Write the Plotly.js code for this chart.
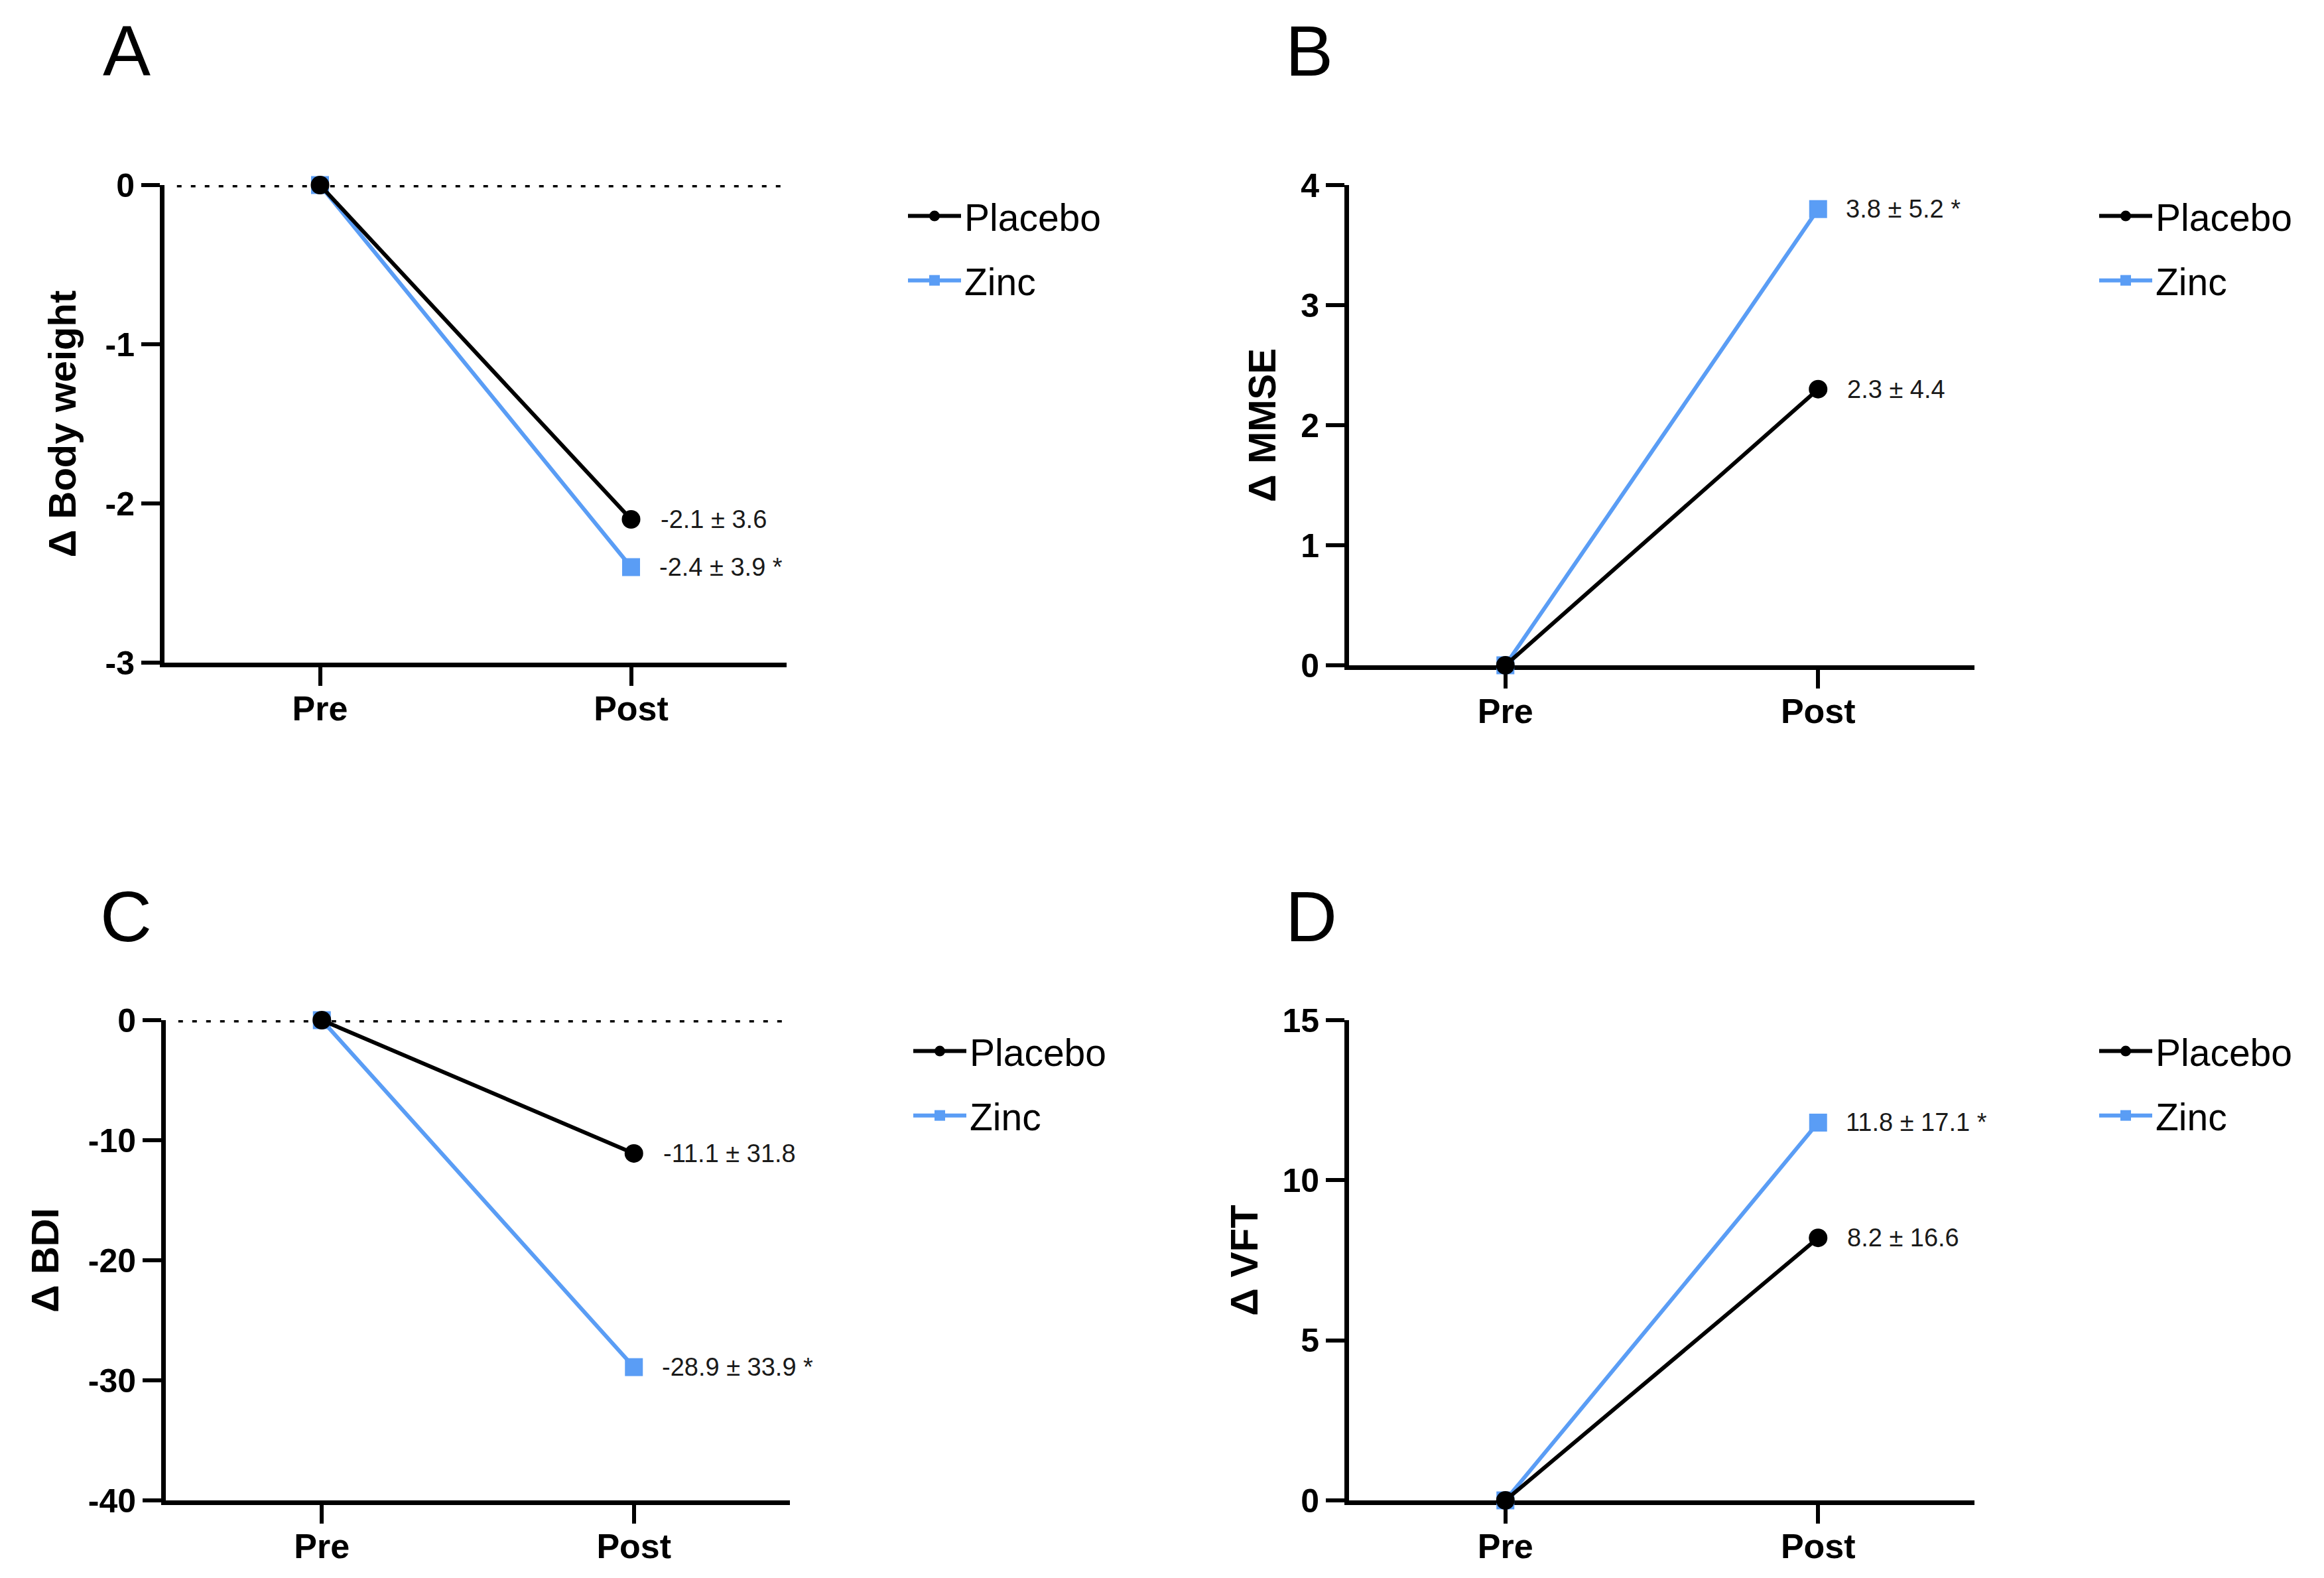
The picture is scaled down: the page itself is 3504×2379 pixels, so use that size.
<!DOCTYPE html>
<html>
<head>
<meta charset="utf-8">
<script src="https://cdn.plot.ly/plotly-3.0.1.min.js"></script>
<style>html,body{margin:0;padding:0;background:#fff;} #chart{width:3504px;height:2379px;}</style>
</head>
<body>
<div id="chart"></div>
<script>
// ---- data ----
const categories = ['Pre', 'Post'];
const seriesNames = ['Placebo', 'Zinc'];

const bodyPlacebo = [0, -2.1];
const bodyZinc = [0, -2.4];
const bodyLabels = ['-2.1 ± 3.6', '-2.4 ± 3.9 *'];
const bodyTicks = [0, -1, -2, -3];
const bodyTickText = ['0', '-1', '-2', '-3'];

const mmsePlacebo = [0, 2.3];
const mmseZinc = [0, 3.8];
const mmseLabels = ['2.3 ± 4.4', '3.8 ± 5.2 *'];
const mmseTicks = [0, 1, 2, 3, 4];
const mmseTickText = ['0', '1', '2', '3', '4'];

const bdiPlacebo = [0, -11.1];
const bdiZinc = [0, -28.9];
const bdiLabels = ['-11.1 ± 31.8', '-28.9 ± 33.9 *'];
const bdiTicks = [0, -10, -20, -30, -40];
const bdiTickText = ['0', '-10', '-20', '-30', '-40'];

const vftPlacebo = [0, 8.2];
const vftZinc = [0, 11.8];
const vftLabels = ['8.2 ± 16.6', '11.8 ± 17.1 *'];
const vftTicks = [0, 5, 10, 15];
const vftTickText = ['0', '5', '10', '15'];

const panelLetters = ['A', 'B', 'C', 'D'];
const yTitles = ['Δ Body weight', 'Δ MMSE', 'Δ BDI', 'Δ VFT'];
const yRanges = [[-3, 0], [0, 4], [-40, 0], [0, 15]];

// ---- styling / layout ----
const W = 3504, H = 2379;
const FONT = 'Liberation Sans, Arial, Helvetica, sans-serif';
const BLUE = '#5a9df5';
const BLACK = '#000000';

const panels = [
  {p: bodyPlacebo, z: bodyZinc, lab: bodyLabels, tv: bodyTicks, tt: bodyTickText,
   xd: [248, 1186], yd: [279, 999], dotted: true, standoff: 28,
   letter: [191, 77], leg: [1364, 282]},
  {p: mmsePlacebo, z: mmseZinc, lab: mmseLabels, tv: mmseTicks, tt: mmseTickText,
   xd: [2034, 2977], yd: [279, 1003], dotted: false, standoff: 21,
   letter: [1974, 77], leg: [3160, 282]},
  {p: bdiPlacebo, z: bdiZinc, lab: bdiLabels, tv: bdiTicks, tt: bdiTickText,
   xd: [250, 1191], yd: [1538, 2262], dotted: true, standoff: 28,
   letter: [190, 1381], leg: [1372, 1541]},
  {p: vftPlacebo, z: vftZinc, lab: vftLabels, tv: vftTicks, tt: vftTickText,
   xd: [2034, 2977], yd: [1538, 2262], dotted: false, standoff: 21,
   letter: [1977, 1381], leg: [3160, 1541]}
];

const data = [];
const layout = {
  width: W, height: H,
  margin: {l: 0, r: 0, t: 0, b: 0},
  paper_bgcolor: '#ffffff', plot_bgcolor: '#ffffff',
  font: {family: FONT, color: BLACK},
  showlegend: true,
  annotations: [], shapes: []
};

panels.forEach((pn, i) => {
  const k = i === 0 ? '' : String(i + 1);
  const xa = 'x' + k, ya = 'y' + k;
  const legName = i === 0 ? 'legend' : 'legend' + (i + 1);

  // Zinc drawn first (underneath), Placebo on top
  data.push({
    type: 'scatter', mode: 'lines+markers', name: seriesNames[1],
    x: categories, y: pn.z, xaxis: xa, yaxis: ya, legend: legName,
    legendgroup: 'z' + i, legendrank: 2,
    line: {color: BLUE, width: 6},
    marker: {symbol: 'square', size: 27, color: BLUE},
    cliponaxis: false, hoverinfo: 'skip'
  });
  data.push({
    type: 'scatter', mode: 'lines+markers', name: seriesNames[0],
    x: categories, y: pn.p, xaxis: xa, yaxis: ya, legend: legName,
    legendgroup: 'p' + i, legendrank: 1,
    line: {color: BLACK, width: 6},
    marker: {symbol: 'circle', size: 28, color: BLACK},
    cliponaxis: false, hoverinfo: 'skip'
  });

  layout['xaxis' + k] = {
    domain: [pn.xd[0] / W, pn.xd[1] / W],
    anchor: ya, type: 'category', range: [-0.5, 1.5],
    showline: true, linecolor: BLACK, linewidth: 7,
    ticks: 'outside', ticklen: 28, tickwidth: 6, tickcolor: BLACK,
    showgrid: false, zeroline: false, fixedrange: true,
    ticklabelstandoff: -10,
    tickfont: {family: FONT, size: 52, color: BLACK, weight: 'bold'},
    layer: 'below traces'
  };
  layout['yaxis' + k] = {
    domain: [1 - pn.yd[1] / H, 1 - pn.yd[0] / H],
    anchor: xa, range: yRanges[i], tickmode: 'array', tickvals: pn.tv, ticktext: pn.tt,
    showline: true, linecolor: BLACK, linewidth: 7,
    ticks: 'outside', ticklen: 28, tickwidth: 6, tickcolor: BLACK,
    showgrid: false, zeroline: false, fixedrange: true,
    tickfont: {family: FONT, size: 50, color: BLACK, weight: 'bold'},
    title: {text: yTitles[i], font: {family: FONT, size: 58, color: BLACK, weight: 'bold'}, standoff: pn.standoff},
    layer: 'below traces'
  };

  layout[legName] = {
    x: pn.leg[0] / W, y: 1 - pn.leg[1] / H, xanchor: 'left', yanchor: 'top',
    font: {family: FONT, size: 57, color: BLACK},
    bgcolor: 'rgba(0,0,0,0)', borderwidth: 0,
    traceorder: 'grouped', tracegroupgap: 20, itemwidth: 80
  };

  // value labels beside the Post points
  layout.annotations.push({
    xref: xa, yref: ya, x: categories[1], y: pn.p[1], text: pn.lab[0],
    showarrow: false, xanchor: 'left', yanchor: 'middle', xshift: 42,
    font: {family: FONT, size: 38, color: '#1a1a1a'}
  });
  layout.annotations.push({
    xref: xa, yref: ya, x: categories[1], y: pn.z[1], text: pn.lab[1],
    showarrow: false, xanchor: 'left', yanchor: 'middle', xshift: 40,
    font: {family: FONT, size: 38, color: '#1a1a1a'}
  });

  // panel letter
  layout.annotations.push({
    xref: 'paper', yref: 'paper', x: pn.letter[0] / W, y: 1 - pn.letter[1] / H,
    text: panelLetters[i], showarrow: false, xanchor: 'center', yanchor: 'middle',
    font: {family: FONT, size: 108, color: BLACK}
  });

  if (pn.dotted) {
    layout.shapes.push({
      type: 'line', xref: xa + ' domain', yref: ya, x0: 0.02, x1: 1, y0: 0, y1: 0,
      line: {color: BLACK, width: 7, dash: '7px,14px'}, layer: 'below'
    });
  }
});

Plotly.newPlot('chart', data, layout, {displayModeBar: false, staticPlot: true});
</script>
</body>
</html>
